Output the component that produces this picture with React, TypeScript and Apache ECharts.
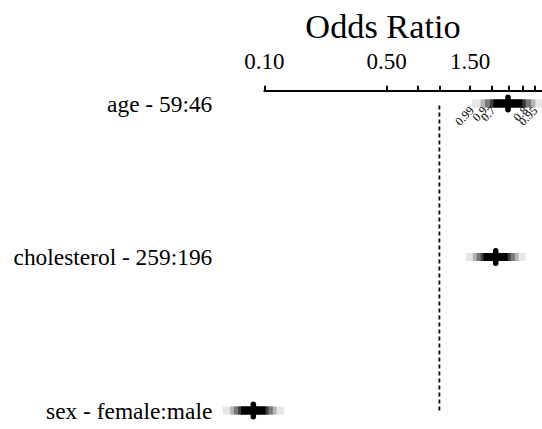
import React, { useEffect, useRef } from "react";
import * as echarts from "echarts";

const ROWS = ["age - 59:46", "cholesterol - 259:196", "sex - female:male"];
const LEVELS = ["0.7", "0.8", "0.9", "0.95", "0.99"];
const LEVEL_SIDE = ["low", "high", "low", "high", "low"];
const LEVEL_COLORS = ["#000000", "#3c3c3c", "#787878", "#b4b4b4", "#e6e6e6"];
const ESTIMATES = [2.465, 2.097, 0.0866];
const AGE_LOW = [2.037, 1.948, 1.822, 1.719, 1.536];
const AGE_HIGH = [2.983, 3.119, 3.336, 3.534, 3.957];
const CHOL_LOW = [1.789, 1.723, 1.63, 1.553, 1.413];
const CHOL_HIGH = [2.457, 2.551, 2.697, 2.831, 3.111];
const SEX_LOW = [0.0737, 0.0709, 0.067, 0.0638, 0.0579];
const SEX_HIGH = [0.1017, 0.1056, 0.1118, 0.1174, 0.1292];
const TICK_VALUES = [0.1, 0.5, 0.75, 1, 1.5, 2, 2.5, 3, 3.5];
const TICK_LABELS = [0.1, 0.5, 1.5];
const REF_VALUE = 1;
const X_MIN = 0.1;
const X_MAX = 3.855;

const FONT = "'Liberation Serif', 'Times New Roman', serif";
const lg = (v: number) => Math.log10(v);

export default function App() {
  const ref = useRef<HTMLDivElement>(null);
  useEffect(() => {
    if (!ref.current) return;
    const chart = echarts.init(ref.current, undefined, { renderer: "svg" });
    const lows = [AGE_LOW, CHOL_LOW, SEX_LOW];
    const highs = [AGE_HIGH, CHOL_HIGH, SEX_HIGH];
    const barData = ROWS.map((_, i) => [
      i,
      lg(ESTIMATES[i]),
      ...lows[i].map(lg),
      ...highs[i].map(lg),
    ]);
    const option: any = {
      animation: false,
      graphic: [
        {
          type: "text",
          x: 383,
          y: 26,
          style: {
            text: "Odds Ratio",
            font: `34.3px ${FONT}`,
            fill: "#000",
            align: "center",
            verticalAlign: "middle",
          },
        },
      ],
      grid: { left: 264.3, right: 0, top: 103.5, bottom: 18.5, containLabel: false },
      xAxis: {
        type: "value",
        position: "top",
        offset: 12.8,
        min: lg(X_MIN),
        max: lg(X_MAX),
        splitLine: { show: false },
        axisLine: { show: true, lineStyle: { color: "#000", width: 2 } },
        axisTick: {
          show: true,
          length: 5,
          customValues: TICK_VALUES.map(lg),
          lineStyle: { color: "#000", width: 2 },
        },
        axisLabel: {
          show: true,
          customValues: TICK_LABELS.map(lg),
          margin: 18,
          color: "#000",
          fontSize: 23,
          fontFamily: FONT,
          formatter: (v: number) => Math.pow(10, v).toFixed(2),
        },
      },
      yAxis: {
        type: "category",
        data: ROWS,
        inverse: true,
        boundaryGap: false,
        axisLine: { show: false },
        axisTick: { show: false },
        splitLine: { show: false },
        axisLabel: {
          margin: 52,
          color: "#000",
          fontSize: 23.4,
          fontFamily: FONT,
        },
      },
      series: [
        {
          type: "custom",
          clip: false,
          data: [[lg(REF_VALUE), 0]],
          encode: { x: 0, y: 1 },
          renderItem: (params: any, api: any) => {
            const x = api.value(0);
            const top = api.coord([x, 0]);
            const bottom = api.coord([x, ROWS.length - 1]);
            return {
              type: "line",
              shape: { x1: top[0], y1: top[1] + 2, x2: bottom[0], y2: bottom[1] + 3 },
              style: { stroke: "#000", lineWidth: 1.8, lineDash: [4, 3] },
            };
          },
        },
        {
          type: "custom",
          clip: false,
          data: barData,
          encode: { x: 1, y: 0 },
          renderItem: (params: any, api: any) => {
            const row = api.value(0);
            const est = api.value(1);
            const children: any[] = [];
            const n = LEVELS.length;
            const center = api.coord([est, row]);
            const h = 8;
            for (let k = n - 1; k >= 0; k--) {
              const lo = api.coord([api.value(2 + k), row]);
              const hi = api.coord([api.value(2 + n + k), row]);
              children.push({
                type: "rect",
                shape: { x: lo[0], y: center[1] - h / 2, width: hi[0] - lo[0], height: h },
                style: { fill: LEVEL_COLORS[k] },
              });
            }
            children.push({
              type: "rect",
              shape: { x: center[0] - 2.75, y: center[1] - 9, width: 5.5, height: 18, r: 2.75 },
              style: { fill: "#000" },
            });
            if (row === 0) {
              for (let k = 0; k < n; k++) {
                const v = LEVEL_SIDE[k] === "low" ? api.value(2 + k) : api.value(2 + n + k);
                const p = api.coord([v, row]);
                children.push({
                  type: "text",
                  x: p[0],
                  y: center[1] + h / 2 + 1,
                  rotation: Math.PI / 4,
                  style: {
                    text: LEVELS[k],
                    font: `12px ${FONT}`,
                    fill: "#000",
                    align: "right",
                    verticalAlign: "middle",
                  },
                });
              }
            }
            return { type: "group", children };
          },
        },
      ],
    };
    chart.setOption(option);
    return () => chart.dispose();
  }, []);
  return (
    <div
      ref={ref}
      style={{ position: "absolute", left: 0, top: 0, width: 542, height: 429, background: "#fff" }}
    />
  );
}
